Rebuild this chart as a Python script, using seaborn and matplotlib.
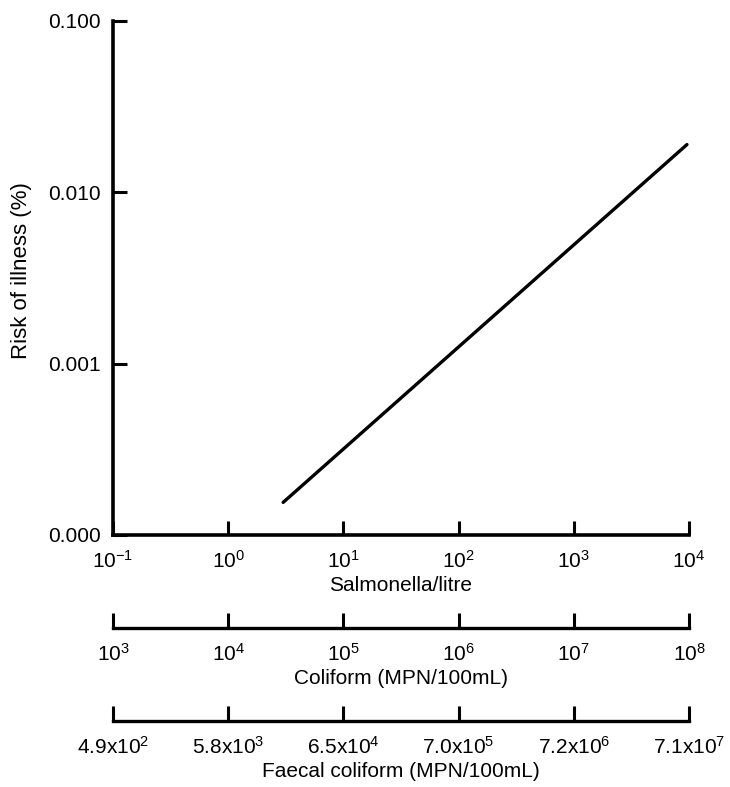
import matplotlib
matplotlib.use("Agg")
import matplotlib.pyplot as plt
import seaborn as sns
import pandas as pd

# Data
salmonella = [3.0, 9.6e3]
risk = [1.55e-4, 0.019]
x_ticks = [1e-1, 1e0, 1e1, 1e2, 1e3, 1e4]
x_labels = [r"$10^{-1}$", r"$10^{0}$", r"$10^{1}$", r"$10^{2}$", r"$10^{3}$", r"$10^{4}$"]
y_ticks = [1e-4, 1e-3, 1e-2, 1e-1]
y_labels = ["0.000", "0.001", "0.010", "0.100"]
coliform_ticks = [1e3, 1e4, 1e5, 1e6, 1e7, 1e8]
coliform_labels = [r"$10^{3}$", r"$10^{4}$", r"$10^{5}$", r"$10^{6}$", r"$10^{7}$", r"$10^{8}$"]
faecal_labels = [r"4.9x$10^{2}$", r"5.8x$10^{3}$", r"6.5x$10^{4}$",
                 r"7.0x$10^{5}$", r"7.2x$10^{6}$", r"7.1x$10^{7}$"]

sns.set_style("ticks")
plt.rcParams["font.family"] = ["Liberation Sans", "DejaVu Sans"]
plt.rcParams["mathtext.fontset"] = "custom"
plt.rcParams["mathtext.rm"] = "Liberation Sans"
plt.rcParams["mathtext.it"] = "Liberation Sans"
plt.rcParams["mathtext.default"] = "regular"
plt.rcParams["text.color"] = "black"
plt.rcParams["axes.labelcolor"] = "black"

FS = 15
W, H = 730, 787
fig = plt.figure(figsize=(W / 100, H / 100), dpi=100)

def box(l, r, t, b):
    return [l / W, 1 - b / H, (r - l) / W, (b - t) / H]

df = pd.DataFrame({"Salmonella": salmonella, "Risk": risk})
ax = fig.add_axes(box(113, 689, 21, 535))
sns.lineplot(data=df, x="Salmonella", y="Risk", ax=ax, color="black", linewidth=2.4)
ax.set_xscale("log")
ax.set_yscale("log")
ax.set_xlim(1e-1, 1e4)
ax.set_ylim(1e-4, 1e-1)
ax.set_xticks(x_ticks)
ax.set_xticklabels(x_labels)
ax.set_yticks(y_ticks)
ax.set_yticklabels(y_labels)
ax.minorticks_off()
for s in ["top", "right"]:
    ax.spines[s].set_visible(False)
for s in ["left", "bottom"]:
    ax.spines[s].set_linewidth(2.6)
    ax.spines[s].set_color("black")
ax.tick_params(axis="x", direction="in", length=10, width=2.2, labelsize=FS, pad=10.5, colors="black")
ax.tick_params(axis="y", direction="in", length=10, width=2.2, labelsize=FS, pad=9, colors="black")
ax.set_xlabel("Salmonella/litre", fontsize=FS, labelpad=3)
ax.set_ylabel("Risk of illness (%)", fontsize=16, labelpad=11, y=0.515)

def sec_axis(ypix, labels, title):
    a = fig.add_axes(box(113, 689, ypix - 1, ypix))
    a.set_xscale("log")
    a.set_xlim(1e3, 1e8)
    a.set_ylim(0, 1)
    a.set_yticks([])
    a.set_xticks(coliform_ticks)
    a.set_xticklabels(labels)
    a.minorticks_off()
    for s in ["top", "right", "left"]:
        a.spines[s].set_visible(False)
    a.spines["bottom"].set_linewidth(2.4)
    a.spines["bottom"].set_color("black")
    a.patch.set_alpha(0)
    a.tick_params(axis="x", direction="in", length=11, width=2.2, labelsize=FS, pad=10.5, colors="black")
    a.set_xlabel(title, fontsize=FS, labelpad=3)
    return a

sec_axis(628, coliform_labels, "Coliform (MPN/100mL)")
sec_axis(721, faecal_labels, "Faecal coliform (MPN/100mL)")

fig.savefig("out.png", dpi=100, facecolor="white")
